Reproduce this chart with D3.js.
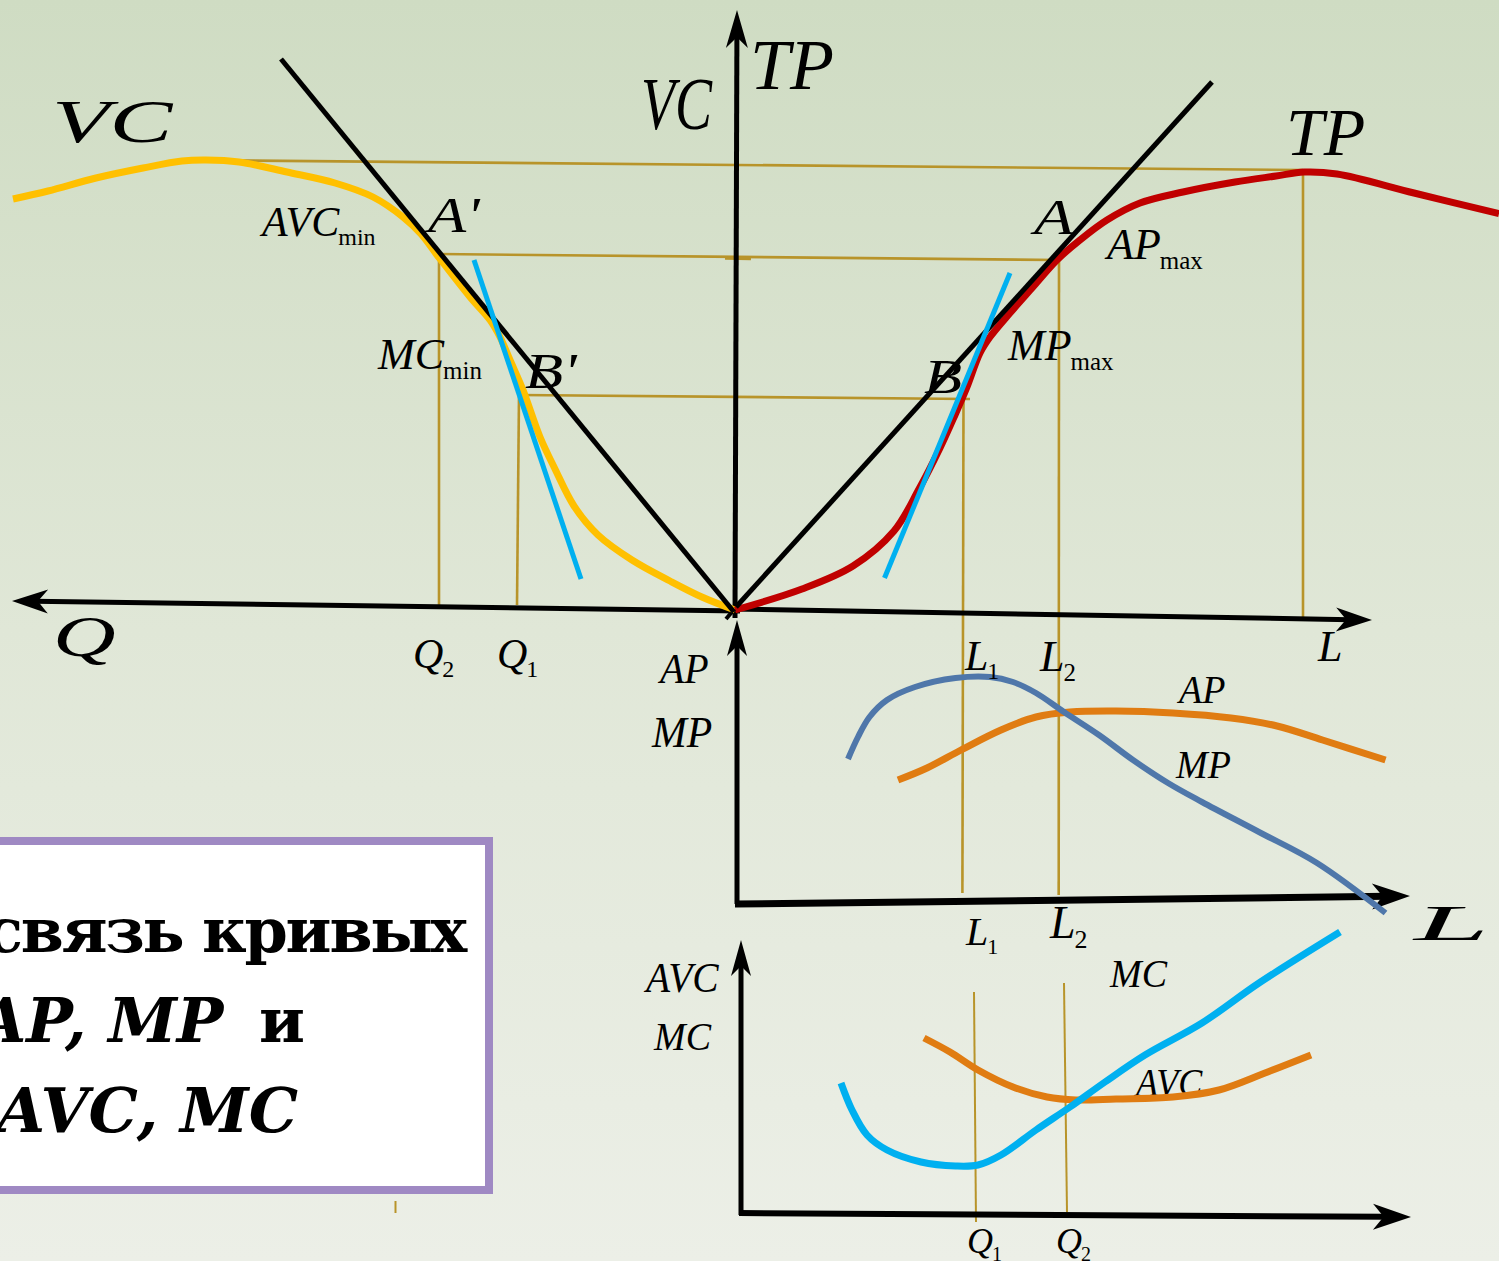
<!DOCTYPE html>
<html>
<head>
<meta charset="utf-8">
<script src="https://cdn.jsdelivr.net/npm/d3@7"></script>
<style>
  html, body { margin: 0; padding: 0; overflow: hidden; background: #e4eadc; }
  svg { display: block; }
</style>
</head>
<body>
<svg id="chart" width="1499" height="1261"></svg>
<script>
//////////////////// DATA ////////////////////
// top panel: x = L to the right, Q to the left; y = TP / VC (origin at axis crossing)
const vcCurve = [[-722,411],[-687,419],[-639,432],[-592,442],[-553,449],[-529,450],[-496,448],[-448,438],
    [-400,427],[-362,413],[-332,393],[-314,376],[-298,355],[-265,313],[-245,290],[-235,273],[-225,250],
    [-212,220],[-195,173],[-180,141],[-161,104],[-137,75],[-103,50],[-65,29],[-32,12.5],[0,0]];
const tpCurve = [[0,0],[67,21],[118,44],[159,79],[184,121],[205,162],[220,195],[232,223],[245,257],
    [255,273],[275,297],[298,323],[322,350],[345,370],[372,390],[405,407],[448,418],[500,428],
    [541,434],[569,438],[602,436],[679,417],[764,396.5]];
const rayLeft = [[-454,551],[-1,-2]];
const rayRight = [[1,3],[477,528]];
const tangentLeft = [[-261,350],[-154,31]];
const tangentRight = [[149.5,32],[275,337]];
const guidesTop = [
    [[-550,450],[568,440]], [[568,440],[568,-9]],
    [[-297,356],[324,350]], [[-296,356],[-296,2]], [[324,350],[323.7,-285]],
    [[-216,215],[235,211]], [[-216,215],[-218,5]], [[228.5,211],[227.4,-283]]
];
const axisTick = [[-10,352],[16,351.5]];

// middle panel: AP, MP against L
const mpCurve = [[111,143],[121,165],[132.5,185],[150,202],[178,215],[218.5,224],[253,225],[276,220],
    [299,209],[327,190],[362,167],[396,142],[431,119],[465,100],[522,70],[580,39],[648.5,-11]];
const apCurve = [[161,122],[190,134],[224,152],[264,172],[299,185],[333,190],[379,191],[436,189],
    [494,184],[540,176],[585.5,162],[648.5,142]];

// bottom panel: AVC, MC against Q
const mcCurve = [[100,130],[111,103],[126,78],[146,63],[180,51],[214.5,47],[237,48],[260,58],[295,83],
    [329,106],[364,131],[404,158],[461,190],[518,230],[599,281]];
const avcCurve = [[183,175],[209,161],[237,143],[272,126],[306,116],[335,113],[375,114],[432,116],
    [478,123],[524,140],[570,158]];
const guidesBottom = [[[233,221],[235,-9]], [[323,230],[326,1]]];

// axes (start, arrow tip)
const topAxisQ = [[5,-1],[-723,9]];
const topAxisL = [[-5,1],[637,-10]];
const topAxisV = [[0,-8],[2,600]];
const midAxisV = [[0,-2],[0,282]];
const midAxisL = [[-2,-2],[673,6]];
const botAxisV = [[0,-2],[0,273]];
const botAxisQ = [[-2,0],[670,-4]];

// labels: [text, subscript, x, y, size, scaleX]
const topLabels = [
    ["VC", "", -683, 468, 62, 1.52],
    ["VC", "", -94, 481, 74, 0.75],
    ["TP", "", 15, 521, 72, 1],
    ["TP", "", 551, 455, 68, 1],
    ["AVC", "min", -473, 374, 42, 1],
    ["A'", "", -307, 378, 50, 1.25],
    ["MC", "min", -357, 241, 44, 1],
    ["B'", "", -210, 222, 50, 1.25],
    ["A", "", 299, 376, 50, 1.3],
    ["AP", "max", 372, 351, 44, 1],
    ["MP", "max", 273, 250, 44, 1],
    ["B", "", 189, 217, 48, 1.3],
    ["Q", "", -682, -46, 56, 1.55],
    ["Q", "2", -322, -58, 42, 1],
    ["Q", "1", -238, -58, 42, 1],
    ["L", "", 583, -51, 44, 1],
    ["L", "1", 230, -60, 42, 1],
    ["L", "2", 305, -61, 44, 1]
];
const midLabels = [
    ["AP", "", -77, 219, 42, 0.95],
    ["MP", "", -85, 155, 44, 0.95],
    ["AP", "", 442, 199, 40, 0.95],
    ["MP", "", 439, 124, 40, 0.95],
    ["L", "1", 229, -43, 40, 1],
    ["L", "2", 313, -36, 46, 1],
    ["L", "", 677, -38, 50, 2.7]
];
const botLabels = [
    ["AVC", "", -95, 221, 42, 0.94],
    ["MC", "", -87, 163, 40, 0.95],
    ["MC", "", 369, 226, 40, 0.95],
    ["AVC", "", 395, 117, 40, 0.9],
    ["Q", "1", 226, -40, 36, 1],
    ["Q", "2", 315, -40, 36, 1]
];

// title box lines: [upright part, italic part, upright tail]
const titleLines = [
    ["связь кривых", "", ""],
    ["", "AP, MP", " и"],
    ["", "AVC, MC", ""]
];

//////////////////// SIZES AND SCALES ////////////////////
const W = 1499, H = 1261;
const svg = d3.select("#chart");

const xTop = d3.scaleLinear().domain([-735, 764]).range([0, W]);
const yTop = d3.scaleLinear().domain([-651, 610]).range([H, 0]);
const xMid = d3.scaleLinear().domain([-737, 762]).range([0, W]);
const yMid = d3.scaleLinear().domain([-359, 902]).range([H, 0]);
const xBot = d3.scaleLinear().domain([-741, 758]).range([0, W]);
const yBot = d3.scaleLinear().domain([-48, 1213]).range([H, 0]);

const panels = {
    top: { x: xTop, y: yTop },
    mid: { x: xMid, y: yMid },
    bot: { x: xBot, y: yBot }
};

//////////////////// BACKGROUND ////////////////////
const defs = svg.append("defs");
const grad = defs.append("linearGradient")
    .attr("id", "bg").attr("x1", 0).attr("y1", 0).attr("x2", 0).attr("y2", 1);
grad.append("stop").attr("offset", "0%").attr("stop-color", "#cfdcc3");
grad.append("stop").attr("offset", "50%").attr("stop-color", "#e0e7d7");
grad.append("stop").attr("offset", "100%").attr("stop-color", "#ecefe7");
svg.append("rect").attr("width", W).attr("height", H).attr("fill", "url(#bg)");

//////////////////// HELPERS ////////////////////
const guideColor = "#b8942a";

function curve(p, data, color, width) {
    const line = d3.line()
        .x(d => p.x(d[0]))
        .y(d => p.y(d[1]))
        .curve(d3.curveCatmullRom.alpha(0.5));
    svg.append("path")
        .attr("d", line(data))
        .attr("fill", "none")
        .attr("stroke", color)
        .attr("stroke-width", width)
        .attr("stroke-linecap", "butt")
        .attr("stroke-linejoin", "round");
}

function segment(p, d, color, width) {
    svg.append("line")
        .attr("x1", p.x(d[0][0])).attr("y1", p.y(d[0][1]))
        .attr("x2", p.x(d[1][0])).attr("y2", p.y(d[1][1]))
        .attr("stroke", color)
        .attr("stroke-width", width);
}

function arrowAxis(p, d, width, headLen, headW) {
    const x1 = p.x(d[0][0]), y1 = p.y(d[0][1]);
    const x2 = p.x(d[1][0]), y2 = p.y(d[1][1]);
    const len = Math.hypot(x2 - x1, y2 - y1);
    const ux = (x2 - x1) / len, uy = (y2 - y1) / len;
    const px = -uy, py = ux;
    svg.append("line")
        .attr("x1", x1).attr("y1", y1)
        .attr("x2", x2 - ux * headLen * 0.6).attr("y2", y2 - uy * headLen * 0.6)
        .attr("stroke", "#000").attr("stroke-width", width);
    const pts = [
        [x2, y2],
        [x2 - ux * headLen + px * headW, y2 - uy * headLen + py * headW],
        [x2 - ux * headLen * 0.72, y2 - uy * headLen * 0.72],
        [x2 - ux * headLen - px * headW, y2 - uy * headLen - py * headW]
    ];
    svg.append("path")
        .attr("d", "M" + pts.map(q => q.join(",")).join("L") + "Z")
        .attr("fill", "#000");
}

function labels(p, list) {
    list.forEach(([txt, sub, x, y, size, sx]) => {
        const t = svg.append("text")
            .attr("transform", `translate(${p.x(x)},${p.y(y)}) scale(${sx},1)`)
            .attr("font-family", "'Liberation Serif', 'Times New Roman', serif")
            .attr("font-size", size)
            .attr("fill", "#000");
        t.append("tspan").attr("font-style", "italic").text(txt);
        if (sub) {
            t.append("tspan")
                .attr("font-size", Math.round(size * 0.56))
                .attr("dy", size * 0.22)
                .attr("dx", -1)
                .text(sub);
        }
    });
}

//////////////////// GUIDE LINES ////////////////////
guidesTop.forEach(g => segment(panels.top, g, guideColor, 2.6));
guidesBottom.forEach(g => segment(panels.bot, g, guideColor, 2));
segment(panels.top, axisTick, guideColor, 3.5);
// small stroke below the title box
svg.append("line")
    .attr("x1", 395.5).attr("y1", 1201).attr("x2", 395.5).attr("y2", 1213)
    .attr("stroke", guideColor).attr("stroke-width", 2);

//////////////////// TITLE BOX ////////////////////
svg.append("rect")
    .attr("x", -12).attr("y", 841)
    .attr("width", 501).attr("height", 349)
    .attr("fill", "#fff")
    .attr("stroke", "#9f89c3")
    .attr("stroke-width", 8);

const titleEnds = [465, 305, 298];
const titleBase = [952, 1042, 1132];
const titleSpacing = [-2.2, 0, 0];
titleLines.forEach((ln, i) => {
    const t = svg.append("text")
        .attr("x", titleEnds[i]).attr("y", titleBase[i])
        .attr("text-anchor", "end")
        .attr("font-family", "'DejaVu Serif', serif")
        .attr("font-weight", "bold")
        .attr("font-size", 62)
        .attr("letter-spacing", titleSpacing[i])
        .attr("fill", "#000")
        .attr("xml:space", "preserve");
    if (ln[0]) t.append("tspan").text(ln[0]);
    if (ln[1]) t.append("tspan").attr("font-style", "italic").text(ln[1]);
    if (ln[2]) t.append("tspan").attr("dx", 14).text(ln[2]);
});

//////////////////// LABELS DRAWN UNDER CURVES ////////////////////
labels(panels.bot, botLabels);

//////////////////// AXES ////////////////////
arrowAxis(panels.top, topAxisQ, 5, 36, 12);
arrowAxis(panels.top, topAxisL, 5, 36, 12);
arrowAxis(panels.top, topAxisV, 5, 38, 11);
arrowAxis(panels.mid, midAxisV, 5, 36, 10);
arrowAxis(panels.mid, midAxisL, 7, 38, 13);
arrowAxis(panels.bot, botAxisV, 5, 36, 10);
arrowAxis(panels.bot, botAxisQ, 6, 38, 13);
// small mark at the origin
segment(panels.top, [[-9,-9],[2,4]], "#000", 4);

//////////////////// CURVES ////////////////////
curve(panels.top, vcCurve, "#ffc000", 7);
curve(panels.top, tpCurve, "#c00000", 7);
segment(panels.top, rayLeft, "#000", 5);
segment(panels.top, rayRight, "#000", 5);
segment(panels.top, tangentLeft, "#00b0f0", 5);
segment(panels.top, tangentRight, "#00b0f0", 5);

curve(panels.mid, apCurve, "#e07c12", 7);
curve(panels.mid, mpCurve, "#4f77aa", 6);

curve(panels.bot, avcCurve, "#e07c12", 7);
curve(panels.bot, mcCurve, "#00b0f0", 7);

//////////////////// LABELS ////////////////////
labels(panels.top, topLabels);
labels(panels.mid, midLabels);
</script>
</body>
</html>
